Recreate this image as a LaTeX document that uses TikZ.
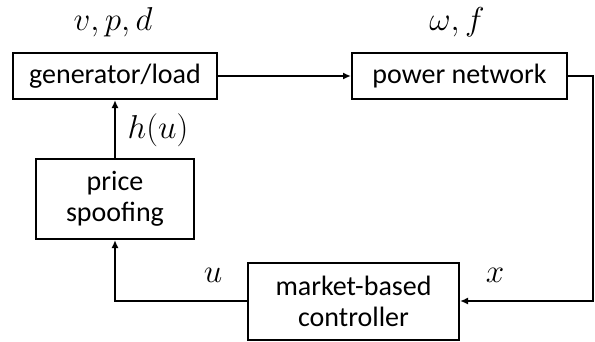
\documentclass[tikz,border=0pt]{standalone}
\usepackage{graphicx}
\usepackage{fontspec}
\setmainfont{Carlito}
\usetikzlibrary{arrows.meta}
\newcommand{\biglbl}[1]{\scalebox{1.33}{$#1$}}
\begin{document}
\begin{tikzpicture}[x=1pt,y=-1pt,
  blk/.style={draw, line width=2pt, inner sep=0pt, align=center, font=\fontsize{28}{31}\selectfont},
  conn/.style={line width=2pt, -{Latex[length=8pt,width=7pt]}},
  lbl/.style={inner sep=0pt, font=\fontsize{24.88}{28}\selectfont}]
\useasboundingbox (0,0) rectangle (595,341);
\node[blk, minimum width=204pt, minimum height=46pt] (gen) at (115,76) {generator/load};
\node[blk, minimum width=215pt, minimum height=46pt] (pn) at (459.5,76) {power network};
\node[blk, minimum width=158pt, minimum height=80pt] (ps) at (115,199) {price\\spoofing};
\node[blk, minimum width=211pt, minimum height=77pt] (mc) at (353.5,301) {market-based\\controller};
\coordinate (c1) at (593,76);
\draw[conn] (gen) -- (pn);
\draw[conn] (pn.east) -- (c1) |- (mc.east);
\draw[conn] (mc.west) -| (ps.south);
\draw[conn] (ps) -- (gen);
\node[lbl] (l1) at (113,22) {\biglbl{v,p,d}};
\node[lbl] (l2) at (457,22) {\biglbl{\omega,f}};
\node[lbl] (l3) at (158,130) {\biglbl{h(u)}};
\node[lbl] (l4) at (213,275) {\biglbl{u}};
\node[lbl] (l5) at (495,275) {\biglbl{x}};
\end{tikzpicture}
\end{document}
